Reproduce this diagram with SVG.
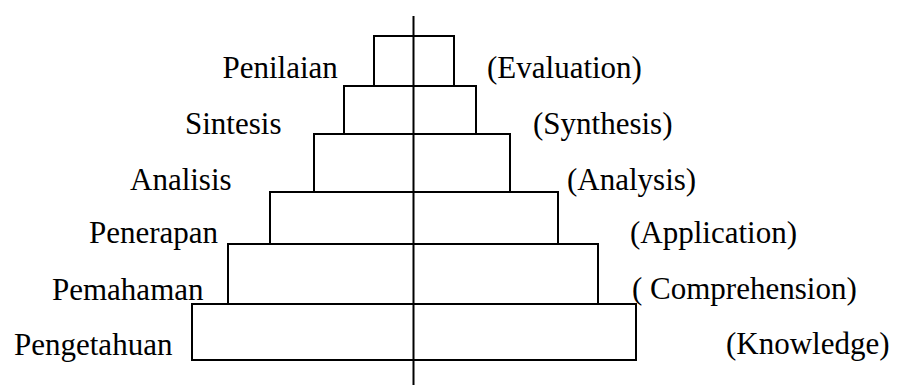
<svg xmlns="http://www.w3.org/2000/svg" width="897" height="385" viewBox="0 0 897 385">
<style>
.lvl rect{fill:#fff;stroke:#000;stroke-width:2}
.t{font-family:'Liberation Serif',serif;font-size:31px;fill:#000}
.axis{stroke:#000;stroke-width:2}
</style>
<rect width="897" height="385" fill="#fff"/>
<g id="level6" class="lvl"><rect x="192" y="304" width="444" height="56"/><text class="t" x="14" y="355">Pengetahuan</text><text class="t" x="726" y="354">(Knowledge)</text></g>
<g id="level5" class="lvl"><rect x="228" y="244" width="370" height="60"/><text class="t" x="52" y="300">Pemahaman</text><text class="t" x="632" y="299">( Comprehension)</text></g>
<g id="level4" class="lvl"><rect x="270" y="192" width="288" height="52"/><text class="t" x="89" y="243">Penerapan</text><text class="t" x="630" y="243">(Application)</text></g>
<g id="level3" class="lvl"><rect x="314" y="134" width="196" height="58"/><text class="t" x="130" y="190">Analisis</text><text class="t" x="567" y="190">(Analysis)</text></g>
<g id="level2" class="lvl"><rect x="344" y="86" width="132" height="48"/><text class="t" x="185" y="134">Sintesis</text><text class="t" x="533" y="134">(Synthesis)</text></g>
<g id="level1" class="lvl"><rect x="374" y="36" width="80" height="50"/><text class="t" x="222.5" y="78">Penilaian</text><text class="t" x="487" y="78">(Evaluation)</text></g>
<g id="connectors"><line class="axis" x1="413.5" y1="16" x2="413.5" y2="385"/></g>
</svg>
